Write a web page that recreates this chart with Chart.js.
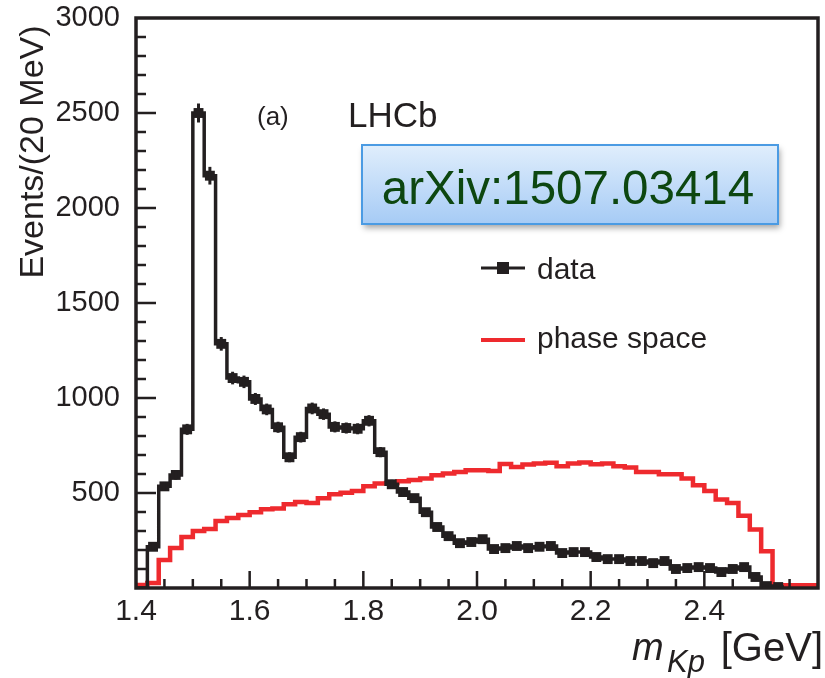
<!DOCTYPE html>
<html>
<head>
<meta charset="utf-8">
<script src="https://cdn.jsdelivr.net/npm/chart.js@4.4.1/dist/chart.umd.min.js"></script>
<style>
  html, body { margin: 0; padding: 0; background: #ffffff; }
  #wrap { width: 825px; height: 678px; }
</style>
</head>
<body>
<div id="wrap"><canvas id="c" width="825" height="678"></canvas></div>
<script>
// ---- binning (20 MeV bins from 1.40 GeV) ----
const binStart = 1.40;
const binWidth = 0.02;

// ---- data: events per bin (black points) ----
const dataCounts = [
  0, 217, 535, 595, 835, 2500, 2170, 1285, 1105, 1085,
  995, 940, 846, 688, 794, 945, 915, 848, 842, 838,
  880, 715, 546, 505, 473, 399, 321, 273, 236, 242,
  257, 205, 210, 221, 210, 217, 221, 184, 189, 189,
  163, 152, 152, 142, 142, 131, 142, 100, 105, 110,
  105, 84, 100, 110, 58, 10, 5
];

// ---- phase space (red histogram) ----
const phaseSpace = [
  16, 26, 147, 210, 268, 300, 310, 352, 368, 384,
  399, 415, 419, 441, 453, 448, 473, 494, 501, 511,
  536, 550, 553, 562, 568, 576, 594, 603, 611, 620,
  620, 616, 652, 637, 650, 655, 659, 641, 655, 660,
  651, 655, 641, 634, 611, 611, 599, 599, 576, 541,
  511, 466, 448, 380, 308, 194, 14, 14, 14, 14
];

// ---- tick labels ----
const xTickValues = [1.4, 1.6, 1.8, 2.0, 2.2, 2.4];
const xTickLabels = ['1.4', '1.6', '1.8', '2.0', '2.2', '2.4'];
const yTickValues = [500, 1000, 1500, 2000, 2500, 3000];
const yTickLabels = ['500', '1000', '1500', '2000', '2500', '3000'];

const FONT = "'Liberation Sans', Arial, Helvetica, sans-serif";
const INK = '#231f20';
const RED = '#ee2a2e';

function stepPoints(vals) {
  const pts = vals.map((v, i) => ({ x: binStart + i * binWidth, y: v }));
  pts.push({ x: binStart + vals.length * binWidth, y: vals[vals.length - 1] });
  return pts;
}
function centerPoints(vals) {
  return vals.map((v, i) => ({ x: binStart + (i + 0.5) * binWidth, y: v }))
             .filter(p => p.y > 0);
}

const decorPlugin = {
  id: 'decor',
  afterDatasetsDraw(chart) {
    const ctx = chart.ctx;
    const xs = chart.scales.x, ys = chart.scales.y;
    const a = chart.chartArea;
    ctx.save();
    // error bars (sqrt N)
    ctx.strokeStyle = INK;
    ctx.lineWidth = 3;
    dataCounts.forEach((v, i) => {
      if (v <= 0) return;
      const e = Math.sqrt(v);
      const px = xs.getPixelForValue(binStart + (i + 0.5) * binWidth);
      const y1 = ys.getPixelForValue(Math.max(0, v - e));
      const y2 = ys.getPixelForValue(v + e);
      ctx.beginPath();
      ctx.moveTo(px, Math.min(y1, a.bottom + 6));
      ctx.lineTo(px, y2);
      ctx.stroke();
    });
    ctx.restore();
  },
  afterDraw(chart) {
    const ctx = chart.ctx;
    const xs = chart.scales.x, ys = chart.scales.y;
    const a = chart.chartArea;
    ctx.save();
    // frame
    ctx.strokeStyle = INK;
    ctx.lineWidth = 3.5;
    ctx.strokeRect(a.left, a.top, a.right - a.left, a.bottom - a.top);

    // inward tick marks
    ctx.lineWidth = 2.5;
    ctx.beginPath();
    for (let v = 100; v < 3000; v += 100) {
      const py = ys.getPixelForValue(v);
      const len = (v % 500 === 0) ? 20 : 10;
      ctx.moveTo(a.left, py);
      ctx.lineTo(a.left + len, py);
    }
    for (let k = 1; k < 24; k++) {
      const v = 1.4 + k * 0.05;
      const px = xs.getPixelForValue(v);
      const len = (k % 4 === 0) ? 17 : 9;
      ctx.moveTo(px, a.bottom);
      ctx.lineTo(px, a.bottom - len);
    }
    ctx.stroke();

    // Y axis title
    ctx.fillStyle = INK;
    ctx.save();
    ctx.translate(43, 152);
    ctx.rotate(-Math.PI / 2);
    ctx.font = '34px ' + FONT;
    ctx.textAlign = 'center';
    ctx.textBaseline = 'alphabetic';
    ctx.fillText('Events/(20 MeV)', 0, 0);
    ctx.restore();

    // X axis title: m_Kp [GeV]
    ctx.textAlign = 'left';
    ctx.textBaseline = 'alphabetic';
    ctx.font = 'italic 38px ' + FONT;
    ctx.fillText('m', 632, 660);
    ctx.font = 'italic 31px ' + FONT;
    ctx.fillText('Kp', 667, 672);
    ctx.font = '40px ' + FONT;
    ctx.textAlign = 'right';
    ctx.fillText('[GeV]', 823, 661);

    // labels
    ctx.textAlign = 'left';
    ctx.font = '26px ' + FONT;
    ctx.fillText('(a)', 257, 125);
    ctx.font = '35px ' + FONT;
    ctx.fillText('LHCb', 348, 127);

    // arXiv box
    const bx = 362, by = 145, bw = 416, bh = 79;
    ctx.save();
    ctx.shadowColor = 'rgba(0,0,0,0.35)';
    ctx.shadowBlur = 6;
    ctx.shadowOffsetX = 2;
    ctx.shadowOffsetY = 4;
    const g = ctx.createLinearGradient(0, by, 0, by + bh);
    g.addColorStop(0, '#e0eefc');
    g.addColorStop(1, '#a6cbf5');
    ctx.fillStyle = g;
    ctx.fillRect(bx, by, bw, bh);
    ctx.restore();
    ctx.strokeStyle = '#4b9be3';
    ctx.lineWidth = 2;
    ctx.strokeRect(bx, by, bw, bh);
    ctx.fillStyle = '#0d4710';
    ctx.font = '47.5px ' + FONT;
    ctx.textAlign = 'center';
    ctx.fillText('arXiv:1507.03414', bx + bw / 2 - 2, by + 59);

    // legend
    ctx.fillStyle = INK;
    ctx.textAlign = 'left';
    ctx.font = '30px ' + FONT;
    ctx.strokeStyle = INK;
    ctx.lineWidth = 3;
    ctx.beginPath();
    ctx.moveTo(481, 268); ctx.lineTo(525, 268);
    ctx.stroke();
    ctx.fillRect(497, 262, 12, 12);
    ctx.fillText('data', 537, 279);
    ctx.strokeStyle = RED;
    ctx.lineWidth = 4;
    ctx.beginPath();
    ctx.moveTo(481, 340); ctx.lineTo(525, 340);
    ctx.stroke();
    ctx.fillText('phase space', 537, 348);
    ctx.restore();
  }
};

new Chart(document.getElementById('c'), {
  type: 'line',
  data: {
    datasets: [
      {
        label: 'data markers',
        data: centerPoints(dataCounts),
        showLine: false,
        pointStyle: 'rect',
        pointRadius: 7,
        pointBackgroundColor: INK,
        pointBorderWidth: 0,
        order: 0
      },
      {
        label: 'data',
        data: stepPoints(dataCounts),
        stepped: 'before',
        borderColor: INK,
        borderWidth: 3.5,
        pointRadius: 0,
        fill: false,
        order: 1
      },
      {
        label: 'phase space',
        data: stepPoints(phaseSpace),
        stepped: 'before',
        borderColor: RED,
        borderWidth: 4.5,
        pointRadius: 0,
        fill: false,
        order: 2
      }
    ]
  },
  options: {
    responsive: false,
    animation: false,
    layout: { padding: { top: 18, right: 5, left: 0, bottom: 0 } },
    plugins: { legend: { display: false }, tooltip: { enabled: false } },
    scales: {
      x: {
        type: 'linear',
        min: 1.4, max: 2.6,
        grid: { display: false },
        border: { display: false },
        afterBuildTicks(scale) { scale.ticks = xTickValues.map(v => ({ value: v })); },
        afterFit(scale) { scale.height = 90; },
        ticks: {
          autoSkip: false,
          maxRotation: 0,
          padding: -2,
          color: INK,
          font: { family: FONT, size: 30 },
          callback(value) {
            const i = xTickValues.findIndex(t => Math.abs(t - value) < 1e-6);
            return i >= 0 ? xTickLabels[i] : '';
          }
        }
      },
      y: {
        min: 0, max: 3000,
        grid: { display: false },
        border: { display: false },
        afterBuildTicks(scale) { scale.ticks = yTickValues.map(v => ({ value: v })); },
        afterFit(scale) { scale.width = 136; },
        ticks: {
          autoSkip: false,
          padding: 8,
          color: INK,
          font: { family: FONT, size: 29, lineHeight: 0.5 },
          callback(value) {
            const i = yTickValues.indexOf(value);
            return i >= 0 ? yTickLabels[i] : '';
          }
        }
      }
    }
  },
  plugins: [decorPlugin]
});
</script>
</body>
</html>
